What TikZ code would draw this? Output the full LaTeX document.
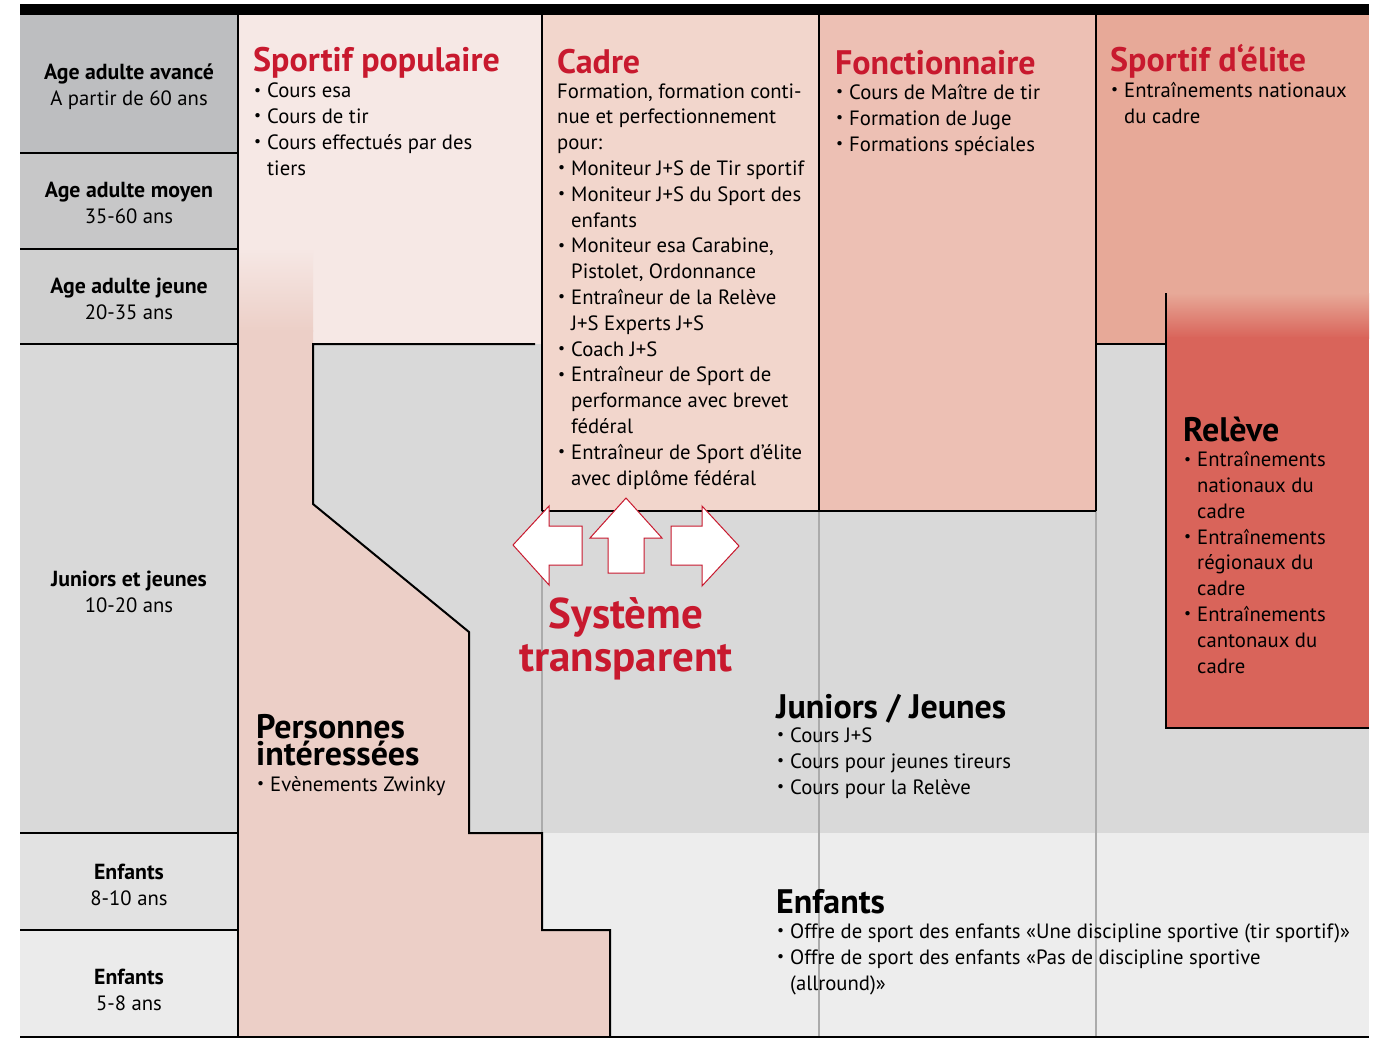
\documentclass[tikz,border=0pt]{standalone}
\usepackage{fontspec}
\setmainfont{PT Sans}
\definecolor{rowA}{HTML}{BDBEC0}
\definecolor{rowB}{HTML}{C7C7C8}
\definecolor{rowC}{HTML}{D0D0D0}
\definecolor{rowD}{HTML}{D9D9D9}
\definecolor{rowE}{HTML}{E2E2E2}
\definecolor{rowF}{HTML}{EBEBEB}
\definecolor{popc}{HTML}{F6E8E5}
\definecolor{persc}{HTML}{ECCFC7}
\definecolor{cadc}{HTML}{F2D6CC}
\definecolor{fonc}{HTML}{EDC0B4}
\definecolor{elic}{HTML}{E7A998}
\definecolor{relc}{HTML}{D9645A}
\definecolor{redt}{HTML}{C8192E}
\definecolor{enfc}{HTML}{EDEDED}
\definecolor{thinc}{HTML}{ABABAB}
\newcommand{\bu}{\makebox[14pt][l]{\hspace{1pt}\raisebox{0.12em}{\scalebox{0.75}{\textbullet}}}}
\newcommand{\ind}{\hspace*{14pt}}
\newcommand{\lb}[1]{{\fontsize{21.8}{26}\bfseries\selectfont #1}}
\begin{document}
\begin{tikzpicture}[x=1pt,y=-1pt,
  lab/.style={align=center,inner sep=0pt,font=\fontsize{20.7}{26}\selectfont},
  body/.style={anchor=base west,align=left,inner sep=0pt,font=\fontsize{20.7}{25.8}\selectfont},
  ttl/.style={anchor=base west,align=left,inner sep=0pt,text=redt,font=\fontsize{34}{26}\bfseries\selectfont},
  btl/.style={anchor=base west,align=left,inner sep=0pt,text=black,font=\fontsize{34}{27}\bfseries\selectfont},
  blk/.style={draw=black,line width=2pt},
  sep/.style={draw=black,line width=2.5pt},
  thinl/.style={draw=thinc,line width=1.5pt},
  arr/.style={fill=white,draw=redt,line width=1pt,line join=miter}]
\useasboundingbox (0,0) rectangle (1385,1039);
\fill[white] (0,0) rectangle (1385,1039);
% left column
\fill[rowA] (20,15) rectangle (238,153);
\fill[rowB] (20,153) rectangle (238,249);
\fill[rowC] (20,249) rectangle (238,344);
\fill[rowD] (20,344) rectangle (238,833);
\fill[rowE] (20,833) rectangle (238,930);
\fill[rowF] (20,930) rectangle (238,1037);
% main backgrounds
\fill[rowD] (238,344) rectangle (1369,833);
\fill[enfc] (238,833) rectangle (1369,1037);
\fill[popc] (238,15) rectangle (542,344);
\fill[cadc] (542,15) rectangle (819,511);
\fill[fonc] (819,15) rectangle (1096,511);
\fill[elic] (1096,15) rectangle (1369,344);
\shade[top color=elic,bottom color=relc] (1166,293) rectangle (1369,338);
\fill[relc] (1166,337) rectangle (1369,728);
% thin grey lines
\draw[thinl] (542,511) -- (542,1037);
\draw[thinl] (819,511) -- (819,1037);
\draw[thinl] (1096,511) -- (1096,1037);
% personnes shape
\fill[persc] (238,330) -- (313,330) -- (313,504) -- (469,632) -- (469,833) -- (542,833) -- (542,930) -- (610,930) -- (610,1037) -- (238,1037) -- cycle;
\shade[top color=popc,bottom color=persc] (238,248) rectangle (313,331);
% black lines
\fill[black] (20,4) rectangle (1369,15);
\draw[sep] (20,153) -- (238,153);
\draw[sep] (20,249) -- (238,249);
\draw[sep] (20,344) -- (238,344);
\draw[sep] (20,833) -- (238,833);
\draw[sep] (20,930) -- (238,930);
\draw[blk] (20,1037) -- (1369,1037);
\draw[blk] (238,15) -- (238,1037);
\draw[blk] (542,15) -- (542,511);
\draw[blk] (819,15) -- (819,511);
\draw[blk] (1096,15) -- (1096,511);
\draw[blk] (542,511) -- (1096,511);
\draw[blk,line join=miter] (535,344) -- (313,344) -- (313,504) -- (469,632) -- (469,833) -- (542,833) -- (542,930) -- (610,930) -- (610,1037);
\draw[blk] (1096,344) -- (1166,344);
\draw[blk,line join=miter] (1166,293) -- (1166,728) -- (1369,728);
% arrows
\draw[arr] (513,545) -- (549,506) -- (549,526) -- (582,526) -- (582,565) -- (549,565) -- (549,585) -- cycle;
\draw[arr] (626,498) -- (662,538) -- (644,538) -- (644,573) -- (608,573) -- (608,538) -- (590,538) -- cycle;
\draw[arr] (739,546) -- (702,506) -- (702,526) -- (671,526) -- (671,565) -- (702,565) -- (702,586) -- cycle;
% left labels
\node[lab] (l1) at (129,86.5) {\lb{Age adulte avancé}\\A partir de 60 ans};
\node[lab] (l2) at (129,202.5) {\lb{Age adulte moyen}\\35-60 ans};
\node[lab] (l3) at (129,298.5) {\lb{Age adulte jeune}\\20-35 ans};
\node[lab] (l4) at (129,591.5) {\lb{Juniors et jeunes}\\10-20 ans};
\node[lab] (l5) at (129,884.5) {\lb{Enfants}\\8-10 ans};
\node[lab] (l6) at (129,989.5) {\lb{Enfants}\\5-8 ans};
% column texts (base = baseline of last line)
\node[ttl] (tpop) at (253,71) {Sportif populaire};
\node[body] (bpop) at (253,175) {\bu Cours esa\\\bu Cours de tir\\\bu Cours effectués par des\\\ind tiers};
\node[ttl] (tcad) at (557,73) {Cadre};
\node[body] (bcad) at (557,485) {Formation, formation conti-\\nue et perfectionnement\\pour:\\\bu Moniteur J+S de Tir sportif\\\bu Moniteur J+S du Sport des\\\ind enfants\\\bu Moniteur esa Carabine,\\\ind Pistolet, Ordonnance\\\bu Entraîneur de la Relève\\\ind J+S Experts J+S\\\bu Coach J+S\\\bu Entraîneur de Sport de\\\ind performance avec brevet\\\ind fédéral\\\bu Entraîneur de Sport d'élite\\\ind avec diplôme fédéral};
\node[ttl] (tfon) at (835,74) {Fonctionnaire};
\node[body] (bfon) at (835,151) {\bu Cours de Maître de tir\\\bu Formation de Juge\\\bu Formations spéciales};
\node[ttl] (teli) at (1110,71) {Sportif d‘élite};
\node[body] (beli) at (1110,123) {\bu Entraînements nationaux\\\ind du cadre};
\node[btl] (trel) at (1183,441) {Relève};
\node[body] (brel) at (1183,673) {\bu Entraînements\\\ind nationaux du\\\ind cadre\\\bu Entraînements\\\ind régionaux du\\\ind cadre\\\bu Entraînements\\\ind cantonaux du\\\ind cadre};
\node[btl] (tper) at (256,765) {Personnes\\intéressées};
\node[body] (bper) at (256,791) {\bu Evènements Zwinky};
\node[btl] (tjun) at (776,718) {Juniors / Jeunes};
\node[body] (bjun) at (776,794) {\bu Cours J+S\\\bu Cours pour jeunes tireurs\\\bu Cours pour la Relève};
\node[btl] (tenf) at (776,913) {Enfants};
\node[body] (benf) at (776,990) {\bu Offre de sport des enfants «Une discipline sportive (tir sportif)»\\\bu Offre de sport des enfants «Pas de discipline sportive\\\ind (allround)»};
\node[align=center,inner sep=0pt,text=redt,font=\fontsize{43}{43}\bfseries\selectfont] (sys) at (626,638.5) {Système\\transparent};
\end{tikzpicture}
\end{document}
